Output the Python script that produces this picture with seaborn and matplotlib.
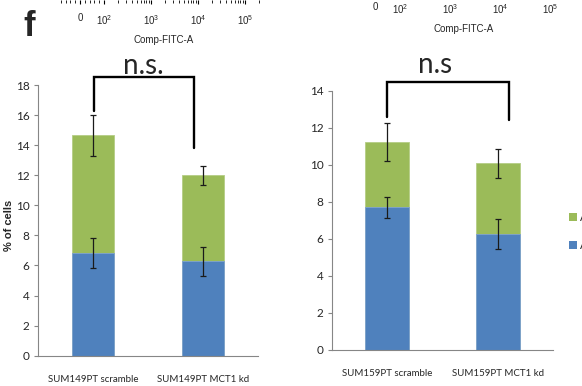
import matplotlib
matplotlib.use("Agg")
import matplotlib.pyplot as plt
import seaborn as sns
import numpy as np
import pandas as pd
from matplotlib.patches import Patch

# ---------------- data ----------------
left_categories = ["SUM149PT scramble", "SUM149PT MCT1 kd"]
left_blue = [6.85, 6.27]
left_blue_err = [1.00, 0.97]
left_green = [7.80, 5.73]
left_green_err = [1.35, 0.63]

right_categories = ["SUM159PT scramble", "SUM159PT MCT1 kd"]
right_blue = [7.70, 6.25]
right_blue_err = [0.56, 0.80]
right_green = [3.53, 3.83]
right_green_err = [1.02, 0.78]

legend_labels = ["Annexin V+ PI+", "Annexin V+ PI-"]
left_yticks = list(range(0, 19, 2))
right_yticks = list(range(0, 15, 2))
flow_ticks = [0, 100, 1000, 10000, 100000]
flow_ticklabels = ["0", r"$10^2$", r"$10^3$", r"$10^4$", r"$10^5$"]
flow_minor = ([-80, -60, -40, -20, 20, 40, 60, 80]
              + [m * 10 ** d for d in (2, 3, 4) for m in range(2, 10)]
              + [200000])

BLUE = "#4F81BD"
GREEN = "#9BBB59"
GREY = "#868686"
ARIAL = ["Liberation Sans", "DejaVu Sans"]
CAL = ["Lato", "DejaVu Sans"]

sns.set_style("white")
plt.rcParams["font.family"] = CAL
plt.rcParams["mathtext.fontset"] = "custom"
plt.rcParams["mathtext.rm"] = "Liberation Sans"

W, H = 582, 386
fig = plt.figure(figsize=(W / 100, H / 100), dpi=100)


def fx(px):
    return px / W


def fy(py):
    return 1 - py / H


def draw_panel(ax, cats, blue, blue_err, green, green_err, yticks, width):
    df = pd.DataFrame({"cat": cats, "blue": blue, "green": green})
    df["total"] = df["blue"] + df["green"]
    sns.barplot(data=df, x="cat", y="total", color=GREEN, saturation=1,
                width=width, ax=ax, edgecolor="#B5CD85", linewidth=0.6, errorbar=None)
    sns.barplot(data=df, x="cat", y="blue", color=BLUE, saturation=1,
                width=width, ax=ax, edgecolor="#7FA3D0", linewidth=0.6, errorbar=None)
    xs = np.arange(len(cats))
    for yv, err in ((df["total"], green_err), (df["blue"], blue_err)):
        ax.errorbar(xs, yv, yerr=err, fmt="none", ecolor="#1a1a1a",
                    elinewidth=0.9, capsize=2.3, capthick=0.9, zorder=5)
    ax.set_xlim(-0.5, len(cats) - 0.5)
    ax.set_ylim(yticks[0], yticks[-1])
    ax.set_yticks(yticks)
    ax.set_yticklabels([str(t) for t in yticks], fontsize=8.5, family=CAL)
    ax.set_xticks(xs)
    ax.set_xticklabels(cats, fontsize=7, family=CAL)
    ax.set_xticks([-0.5, 0.5, 1.5], minor=True)
    ax.tick_params(axis="x", which="major", length=0, pad=14)
    ax.tick_params(axis="x", which="minor", length=4, width=0.8, color=GREY, direction="out")
    ax.tick_params(axis="y", length=3, width=0.8, color=GREY, direction="out", pad=3, left=True)
    for s in ("top", "right"):
        ax.spines[s].set_visible(False)
    for s in ("left", "bottom"):
        ax.spines[s].set_color(GREY)
        ax.spines[s].set_linewidth(0.8)
    ax.set_xlabel("")
    ax.set_ylabel("")


# ---- left panel ----
axL = fig.add_axes([fx(38), fy(355.7), fx(220), (355.7 - 85) / H])
draw_panel(axL, left_categories, left_blue, left_blue_err, left_green,
           left_green_err, left_yticks, 0.39)
axL.set_ylabel("% of cells", fontsize=8, fontweight="bold", family=ARIAL)
axL.yaxis.set_label_coords(-0.108, 0.48)
axL.plot([0.009, 0.009, 0.918, 0.918], [16.27, 18.5, 18.5, 13.8], color="black",
         lw=1.7, clip_on=False, solid_joinstyle="miter")
axL.text(0.455, 19.25, "n.s.", ha="center", va="center", fontsize=20, family=CAL)

# ---- right panel ----
axR = fig.add_axes([fx(331.7), fy(350), fx(221.3), (350 - 90.7) / H])
draw_panel(axR, right_categories, right_blue, right_blue_err, right_green,
           right_green_err, right_yticks, 0.40)
axR.plot([-0.003, -0.003, 1.102, 1.102], [12.56, 14.49, 14.49, 12.42], color="black",
         lw=1.7, clip_on=False, solid_joinstyle="miter")
axR.text(0.434, 15.4, "n.s", ha="center", va="center", fontsize=20, family=CAL)

handles = [Patch(facecolor=GREEN, edgecolor="none"), Patch(facecolor=BLUE, edgecolor="none")]
fig.legend(handles, legend_labels, loc="upper left", bbox_to_anchor=(fx(569), fy(212)),
           frameon=False, borderpad=0, borderaxespad=0, handlelength=0.7,
           handleheight=0.8, handletextpad=0.3, labelspacing=1.5,
           prop={"family": CAL, "size": 8})

# ---- top strip: bottoms of flow-cytometry axes ----
def flow_axis(left_px, width_px, bottom_py, linscale, label_pad):
    ax = fig.add_axes([fx(left_px), fy(bottom_py), fx(width_px), 0.2])
    ax.set_xscale("symlog", linthresh=100, linscale=linscale)
    ax.set_xlim(-85, 3e5)
    ax.set_xticks(flow_ticks)
    ax.set_xticklabels(flow_ticklabels, fontsize=7, family=ARIAL)
    ax.set_xticks(flow_minor, minor=True)
    ax.xaxis.set_minor_formatter(plt.NullFormatter())
    ax.tick_params(axis="x", which="major", length=3.2, width=0.8, direction="out", pad=6,
                   bottom=True, color="black")
    ax.tick_params(axis="x", which="minor", length=1.8, width=0.6, direction="out",
                   bottom=True, color="black")
    ax.set_yticks([])
    ax.patch.set_visible(False)
    for s in ax.spines.values():
        s.set_visible(False)
    ax.set_xlabel("Comp-FITC-A", fontsize=7, family=ARIAL, labelpad=label_pad)
    return ax


flow_axis(59.6, 207.8, 0.0, 0.46, 6)
flow_axis(353.75, 220.1, -11.0, 0.45, 6)

fig.text(fx(29), fy(27), "f", fontsize=25, fontweight="bold", ha="center", va="center",
         family=ARIAL)

fig.savefig("out.png", dpi=100)
